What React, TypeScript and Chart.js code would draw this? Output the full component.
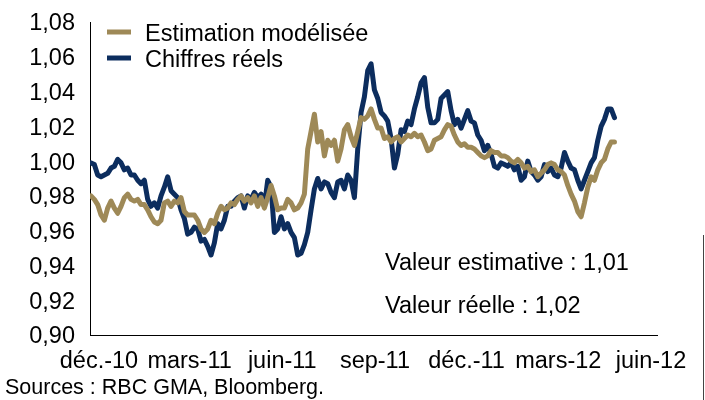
import React, { useEffect, useRef } from 'react';
import { Chart, registerables } from 'chart.js';

Chart.register(...registerables);

// X axis: days counted from 1 Dec 2010
const tickLabels = ['déc.-10', 'mars-11', 'juin-11', 'sep-11', 'déc.-11', 'mars-12', 'juin-12'];
const tickDays = [0, 90, 182, 274, 365, 456, 548];
const axisMinDay = -8.9;
const axisMaxDay = 554;
const startDay = -7.9;
const stepDays = 3.31;

// Y axis
const yMin = 0.9;
const yMax = 1.08;
const yStep = 0.02;

const seriesNames = ['Estimation modélisée', 'Chiffres réels'];

const estimation = [
  0.980, 0.978, 0.975, 0.969, 0.966, 0.973, 0.977, 0.973, 0.970, 0.974,
  0.979, 0.981, 0.978, 0.977, 0.978, 0.975, 0.975, 0.972, 0.968, 0.965,
  0.964, 0.966, 0.976, 0.977, 0.974, 0.977, 0.976, 0.979, 0.971, 0.969,
  0.969, 0.969, 0.966, 0.961, 0.959, 0.961, 0.966, 0.964, 0.970, 0.974,
  0.972, 0.973, 0.976, 0.975, 0.978, 0.980, 0.977, 0.979, 0.976, 0.980,
  0.974, 0.979, 0.973, 0.979, 0.986, 0.980, 0.972, 0.973, 0.973, 0.978,
  0.976, 0.972, 0.973, 0.976, 0.981, 1.007, 1.017, 1.027, 1.011, 1.017,
  1.003, 1.012, 1.009, 1.012, 1.000, 1.007, 1.018, 1.021, 1.014, 1.009,
  1.017, 1.025, 1.024, 1.026, 1.030, 1.024, 1.019, 1.019, 1.013, 1.014,
  1.011, 1.013, 1.014, 1.011, 1.013, 1.015, 1.014, 1.016, 1.014, 1.015,
  1.011, 1.006, 1.007, 1.012, 1.013, 1.014, 1.018, 1.021, 1.020, 1.015,
  1.011, 1.009, 1.010, 1.008, 1.008, 1.007, 1.005, 1.003, 1.002, 1.003,
  1.006, 1.005, 1.005, 1.003, 1.003, 1.002, 1.000, 0.999, 1.001, 0.999,
  0.996, 0.997, 0.994, 0.995, 0.991, 0.993, 0.995, 0.998, 0.999, 0.998,
  0.995, 0.994, 0.992, 0.986, 0.981, 0.977, 0.971, 0.968, 0.976, 0.985,
  0.991, 0.989, 0.995, 0.999, 1.001, 1.007, 1.011, 1.011,
];

const reels = [
  0.999, 0.998, 0.992, 0.991, 0.992, 0.993, 0.996, 0.997, 1.001, 0.999,
  0.995, 0.996, 0.992, 0.992, 0.989, 0.987, 0.989, 0.978, 0.974, 0.976,
  0.973, 0.980, 0.985, 0.991, 0.983, 0.981, 0.979, 0.972, 0.967, 0.958,
  0.959, 0.962, 0.961, 0.954, 0.955, 0.951, 0.946, 0.953, 0.964, 0.961,
  0.966, 0.974, 0.974, 0.977, 0.979, 0.980, 0.973, 0.980, 0.978, 0.982,
  0.979, 0.981, 0.974, 0.989, 0.985, 0.959, 0.961, 0.968, 0.961, 0.964,
  0.959, 0.956, 0.946, 0.947, 0.952, 0.959, 0.972, 0.984, 0.990, 0.984,
  0.988, 0.987, 0.982, 0.979, 0.988, 0.989, 0.984, 0.992, 0.989, 0.979,
  1.007, 1.028, 1.037, 1.052, 1.056, 1.041, 1.036, 1.028, 1.026, 1.023,
  1.013, 0.996, 1.004, 1.018, 1.017, 1.023, 1.021, 1.030, 1.037, 1.045,
  1.048, 1.031, 1.022, 1.022, 1.024, 1.036, 1.038, 1.040, 1.029, 1.021,
  1.024, 1.019, 1.024, 1.029, 1.023, 1.022, 1.015, 1.012, 1.006, 1.009,
  1.004, 0.997, 0.996, 0.999, 0.998, 0.997, 0.999, 0.995, 0.997, 0.989,
  0.991, 1.000, 0.994, 0.992, 0.989, 0.991, 0.998, 0.994, 0.996, 0.992,
  0.991, 0.996, 1.005, 1.000, 0.996, 0.995, 0.989, 0.984, 0.989, 0.994,
  0.999, 1.002, 1.012, 1.020, 1.024, 1.030, 1.030, 1.025,
];

const annotations = ['Valeur estimative : 1,01', 'Valeur réelle : 1,02'];
const sourceText = 'Sources : RBC GMA, Bloomberg.';

const GOLD = '#9e8957';
const NAVY = '#0c2d5e';
const FONT = '"Liberation Sans", Arial, Helvetica, sans-serif';
const FS = 23.5;

export default function App() {
  const ref = useRef<HTMLCanvasElement>(null);

  useEffect(() => {
    const toPoints = (arr: number[]) => arr.map((v, i) => ({ x: startDay + i * stepDays, y: v }));

    const overlay = {
      id: 'overlay',
      afterDraw(chart: any) {
        const ctx = chart.ctx as CanvasRenderingContext2D;
        ctx.save();
        const colors = [GOLD, NAVY];
        const lineYs = [32, 58];
        const textYs = [41, 67];
        ctx.lineWidth = 5;
        ctx.lineCap = 'butt';
        for (let i = 0; i < 2; i++) {
          ctx.strokeStyle = colors[i];
          ctx.beginPath();
          ctx.moveTo(107, lineYs[i]);
          ctx.lineTo(131, lineYs[i]);
          ctx.stroke();
          ctx.fillStyle = '#000';
          ctx.font = `${FS}px ${FONT}`;
          ctx.textBaseline = 'alphabetic';
          ctx.textAlign = 'left';
          ctx.fillText(seriesNames[i], 145, textYs[i]);
        }
        ctx.fillText(annotations[0], 385, 270);
        ctx.fillText(annotations[1], 385, 313);
        ctx.font = `21.5px ${FONT}`;
        ctx.fillText(sourceText, 5, 394);
        ctx.strokeStyle = '#444';
        ctx.lineWidth = 1;
        ctx.beginPath();
        ctx.moveTo(703.5, 235);
        ctx.lineTo(703.5, 400);
        ctx.stroke();
        ctx.restore();
      },
    };

    const lineStyle = {
      borderWidth: 5,
      pointRadius: 0,
      tension: 0,
      fill: false,
      borderJoinStyle: 'round' as const,
      borderCapStyle: 'round' as const,
    };

    const chart = new Chart(ref.current as HTMLCanvasElement, {
      type: 'line',
      data: {
        datasets: [
          { label: seriesNames[0], data: toPoints(estimation), borderColor: GOLD, backgroundColor: GOLD, ...lineStyle },
          { label: seriesNames[1], data: toPoints(reels), borderColor: NAVY, backgroundColor: NAVY, ...lineStyle },
        ],
      },
      options: {
        animation: false,
        responsive: false,
        devicePixelRatio: 1,
        layout: { padding: { top: 22, right: 48, left: 0, bottom: 0 } },
        plugins: { legend: { display: false }, tooltip: { enabled: false } },
        scales: {
          x: {
            type: 'linear',
            min: axisMinDay,
            max: axisMaxDay,
            grid: { display: false, drawTicks: false },
            border: { display: true, color: '#000', width: 1 },
            afterBuildTicks: (scale: any) => {
              scale.ticks = tickDays.map((v) => ({ value: v }));
            },
            afterFit: (scale: any) => {
              scale.height = 65;
              scale.paddingLeft = 0;
              scale.paddingRight = 0;
            },
            ticks: {
              autoSkip: false,
              maxRotation: 0,
              minRotation: 0,
              padding: 12,
              color: '#000',
              font: { family: FONT, size: FS },
              callback: (value: any) => {
                const i = tickDays.indexOf(Number(value));
                return i >= 0 ? tickLabels[i] : '';
              },
            },
          },
          y: {
            type: 'linear',
            min: yMin,
            max: yMax,
            grid: { display: false, drawTicks: false },
            border: { display: true, color: '#000', width: 1 },
            afterFit: (scale: any) => {
              scale.width = 90;
              scale.paddingTop = 0;
              scale.paddingBottom = 0;
            },
            ticks: {
              stepSize: yStep,
              padding: 15,
              labelOffset: 2,
              color: '#000',
              font: { family: FONT, size: FS },
              callback: (value: any) => Number(value).toFixed(2).replace('.', ','),
            },
          },
        },
      },
      plugins: [overlay],
    });
    return () => chart.destroy();
  }, []);

  return (
    <div style={{ position: 'absolute', left: 0, top: 0, width: 705, height: 400, background: '#fff' }}>
      <canvas ref={ref} width={705} height={400} style={{ width: 705, height: 400, display: 'block' }} />
    </div>
  );
}
